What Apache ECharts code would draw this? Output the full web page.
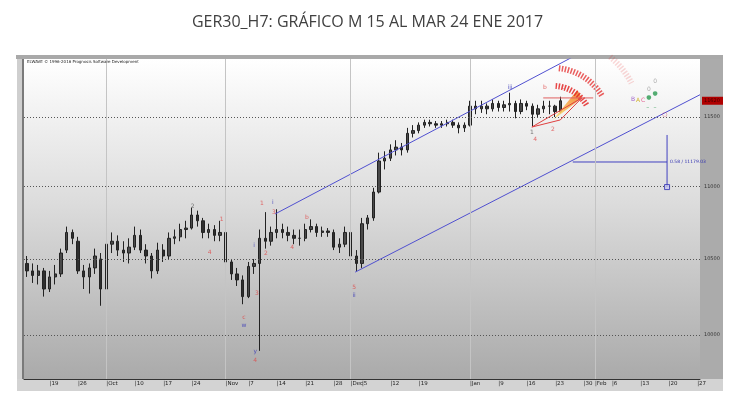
<!DOCTYPE html>
<html><head><meta charset="utf-8">
<script src="https://cdn.jsdelivr.net/npm/echarts@6/dist/echarts.min.js"></script>
<style>html,body{margin:0;padding:0;background:#fff}#c{width:735px;height:401px}</style>
</head><body><div id="c"></div>
<script>
// ---------- DATA ----------
const titleText = 'GER30_H7: GRÁFICO M 15 AL MAR 24 ENE 2017';
const creditText = 'ELWAVE © 1996-2016 Prognosis Software Development';

const days = [
 '2016-09-13','2016-09-14','2016-09-15','2016-09-16','2016-09-19','2016-09-20','2016-09-21','2016-09-22','2016-09-23','2016-09-26','2016-09-27','2016-09-28','2016-09-29','2016-09-30',
 '2016-10-03','2016-10-04','2016-10-05','2016-10-06','2016-10-07','2016-10-10','2016-10-11','2016-10-12','2016-10-13','2016-10-14','2016-10-17','2016-10-18','2016-10-19','2016-10-20','2016-10-21','2016-10-24','2016-10-25','2016-10-26','2016-10-27','2016-10-28','2016-10-31',
 '2016-11-01','2016-11-02','2016-11-03','2016-11-04','2016-11-07','2016-11-08','2016-11-09','2016-11-10','2016-11-11','2016-11-14','2016-11-15','2016-11-16','2016-11-17','2016-11-18','2016-11-21','2016-11-22','2016-11-23','2016-11-24','2016-11-25','2016-11-28','2016-11-29','2016-11-30',
 '2016-12-01','2016-12-02','2016-12-05','2016-12-06','2016-12-07','2016-12-08','2016-12-09','2016-12-12','2016-12-13','2016-12-14','2016-12-15','2016-12-16','2016-12-19','2016-12-20','2016-12-21','2016-12-22','2016-12-23','2016-12-27','2016-12-28','2016-12-29','2016-12-30',
 '2017-01-02','2017-01-03','2017-01-04','2017-01-05','2017-01-06','2017-01-09','2017-01-10','2017-01-11','2017-01-12','2017-01-13','2017-01-16','2017-01-17','2017-01-18','2017-01-19','2017-01-20','2017-01-23','2017-01-24','2017-01-25','2017-01-26','2017-01-27','2017-01-30','2017-01-31',
 '2017-02-01','2017-02-02','2017-02-03','2017-02-06','2017-02-07','2017-02-08','2017-02-09','2017-02-10','2017-02-13','2017-02-14','2017-02-15','2017-02-16','2017-02-17','2017-02-20','2017-02-21','2017-02-22','2017-02-23','2017-02-24','2017-02-27'
];

const tickDates = ['2016-09-19','2016-09-26','2016-10-03','2016-10-10','2016-10-17','2016-10-24','2016-11-01','2016-11-07','2016-11-14','2016-11-21','2016-11-28','2016-12-01','2016-12-05','2016-12-12','2016-12-19','2017-01-02','2017-01-09','2017-01-16','2017-01-23','2017-01-30','2017-02-01','2017-02-06','2017-02-13','2017-02-20','2017-02-27'];
const tickTexts = ['19','26','Oct','10','17','24','Nov','7','14','21','28','Dec','5','12','19','Jan','9','16','23','30','Feb','6','13','20','27'];
const monthDates = ['2016-10-03','2016-11-01','2016-12-01','2017-01-02','2017-02-01'];

const priceLevels = [10000, 10500, 11000, 11500];

// [open, close, low, high] per trading day
const ohlc = [
 [10470,10420,10380,10520],[10420,10390,10340,10470],[10390,10420,10330,10460],[10420,10300,10250,10440],
 [10300,10380,10280,10420],[10380,10400,10330,10460],[10400,10540,10380,10570],[10560,10680,10540,10720],[10680,10640,10600,10700],
 [10620,10420,10400,10650],[10420,10380,10300,10460],[10380,10440,10270,10470],[10440,10520,10400,10570],[10500,10300,10190,10540],
 [10300,10600,10290,10660],[10600,10620,10540,10680],[10620,10560,10520,10660],[10560,10540,10480,10620],[10540,10580,10470,10640],
 [10580,10660,10560,10720],[10660,10560,10540,10700],[10560,10520,10470,10600],[10520,10420,10370,10540],[10420,10560,10400,10610],
 [10560,10520,10480,10600],[10520,10640,10500,10680],[10640,10650,10600,10700],[10650,10700,10620,10740],[10700,10710,10640,10760],
 [10710,10800,10700,10850],[10800,10760,10720,10830],[10760,10680,10640,10780],[10680,10700,10640,10740],[10700,10660,10620,10730],
 [10660,10680,10620,10760],
 [10680,10480,10440,10700],[10480,10400,10360,10500],[10400,10360,10320,10440],[10360,10250,10200,10390],
 [10250,10450,10240,10480],[10450,10470,10400,10500],[10470,10640,9900,10700],[10640,10620,10570,10820],[10620,10680,10590,10720],
 [10680,10700,10640,10840],[10700,10680,10640,10740],[10680,10660,10620,10720],[10660,10640,10600,10700],[10640,10640,10590,10700],
 [10640,10700,10620,10740],[10700,10720,10680,10770],[10720,10680,10650,10740],[10680,10690,10650,10720],[10690,10680,10650,10710],
 [10680,10580,10560,10700],[10580,10600,10540,10640],[10600,10680,10580,10720],
 [10680,10520,10500,10700],[10520,10470,10420,10560],
 [10470,10740,10440,10780],[10740,10780,10700,10800],[10780,10960,10760,10990],[10960,11180,10950,11240],[11180,11200,11120,11250],
 [11200,11260,11180,11300],[11260,11280,11220,11330],[11280,11260,11220,11310],[11260,11380,11240,11420],[11380,11400,11350,11440],
 [11400,11440,11380,11460],[11440,11460,11420,11480],[11460,11450,11430,11480],[11450,11440,11420,11470],[11440,11450,11420,11470],
 [11450,11460,11430,11480],[11460,11440,11420,11480],[11440,11420,11380,11460],[11420,11440,11390,11460],
 [11440,11580,11430,11620],[11580,11560,11520,11620],[11560,11580,11530,11620],[11580,11560,11520,11600],[11560,11600,11540,11630],
 [11600,11570,11540,11620],[11570,11590,11540,11620],[11590,11600,11540,11680],[11600,11540,11490,11620],[11540,11600,11520,11630],
 [11600,11580,11550,11620],[11580,11520,11430,11600],[11520,11560,11500,11590],[11560,11580,11530,11620],[11580,11580,11520,11620],
 [11580,11540,11500,11590],[11540,11620,11530,11650]
];

// channel lines [barIndex, price]
const upperChannel = [[43.7, 10807], [96.1, 11951]];
const lowerChannel = [[57.8, 10412], [118.5, 11665]];
// red triangle lines
const redWedgeLines = [[88.9, 11426], [97.7, 11641], [93.9, 11478], [88.9, 11426]];
const redHLine = [[90.9, 11641], [99.7, 11641]];
const wedgeFill = [[92.6, 11478], [97.7, 11641], [96.9, 11700]];
// arcs: [centerIndex, centerPrice, topPrice, opacity, startDeg, endDeg]
const arcs = [[92.6, 11441, 11731, 0.85, -86, -30], [92.6, 11441, 11867, 0.75, -84, -30], [92.6, 11441, 12113, 0.18, -50, -28]];
// measurement cross
const measureV = [[112.7, 11368], [112.7, 10995]];
const measureH = [[96.1, 11173], [112.7, 11173]];
const measureText = '0.58 / 11179.03';

const redLabels = [[34.3,10770,'1'],[32.2,10546,'4'],[40.5,10273,'3'],[38.2,10116,'c'],[40.2,9837,'4'],[41.4,10883,'1'],
 [43.5,10821,'3'],[42.1,10540,'2'],[46.7,10580,'4'],[49.3,10786,'b'],[57.6,10312,'5'],[91.2,11723,'b'],[94.4,11723,'c'],[89.5,11332,'4'],[92.6,11405,'2']];
const blueLabels = [[40.0,10590,'i'],[38.2,10064,'w'],[40.2,9894,'y'],[43.3,10890,'i'],[57.6,10260,'ii'],[85.05,11723,'iii']];
const greyLabels = [[29.2,10860,'2'],[88.9,11383,'1']];
const forecastLabels = [[106.7,11633,'B','#8a3fbf'],[107.6,11626,'A','#c9a400'],[108.5,11626,'C','#e0407a'],
 [109.5,11641,'●','#2a9a50'],[110.6,11678,'●','#2a9a50'],[109.5,11708,'0','#999'],[110.6,11768,'0','#999'],
 [109.3,11574,'–','#2a9a50'],[110.6,11574,'–','#2a9a50'],[112.3,11522,'○','#d04060']];

// ---------- CHART ----------
const chart = echarts.init(document.getElementById('c'));
const monthIdx = monthDates.map(d => days.indexOf(d));
const tickIdx = tickDates.map(d => days.indexOf(d));
const lastIdx = ohlc.length - 1;
const lastClose = ohlc[lastIdx][1];

function labelSeries(arr, color) {
  return {
    type: 'scatter', xAxisIndex: 1, symbolSize: 0, z: 6,
    data: arr.map(a => ({ value: [a[0], a[1]], label: { formatter: a[2], color: a[3] || color } })),
    label: { show: true, position: 'inside', fontSize: 6, fontFamily: 'DejaVu Sans', color: color },
    silent: true
  };
}

chart.setOption({
  animation: false,
  title: { text: titleText, left: 'center', top: 9,
    textStyle: { fontFamily: 'Open Sans', fontSize: 16, fontWeight: 'normal', color: '#404040' } },
  graphic: [
    { type: 'rect', z: -10, shape: { x: 16, y: 55, width: 707, height: 4 }, style: { fill: '#a9a9a9' } },
    { type: 'rect', z: -10, shape: { x: 17, y: 59, width: 5, height: 332 }, style: { fill: '#cfcfcf' } },
    { type: 'rect', z: -10, shape: { x: 22, y: 59, width: 2, height: 320 }, style: { fill: '#7a7a7a' } },
    { type: 'rect', z: -10, shape: { x: 700, y: 59, width: 23, height: 320 }, style: { fill: '#ababab' } },
    { type: 'rect', z: -10, shape: { x: 17, y: 379, width: 706, height: 12 }, style: { fill: '#d3d3d3' } },
    { type: 'text', z: 10, left: 27, top: 60, style: { text: creditText, font: '4px "DejaVu Sans"', fill: '#222' } }
  ],
  grid: { left: 24, right: 35, top: 59, bottom: 22, show: true, borderWidth: 0,
    backgroundColor: new echarts.graphic.LinearGradient(0, 0, 0, 1, [
      { offset: 0, color: '#ffffff' }, { offset: 0.45, color: '#dcdcdc' }, { offset: 1, color: '#aaaaaa' }]) },
  xAxis: [
    { type: 'category', data: days, boundaryGap: true,
      axisLine: { lineStyle: { color: '#333', width: 1 } },
      axisTick: { interval: 0, length: 2, lineStyle: { color: '#555' } },
      axisLabel: { interval: (i) => tickIdx.indexOf(i) >= 0,
        formatter: (v, i) => { const k = tickDates.indexOf(v); return k >= 0 ? '|' + tickTexts[k] : ''; },
        fontSize: 5.5, color: '#222', margin: 2, align: 'left', fontFamily: 'DejaVu Sans' },
      splitLine: { show: false } },
    { type: 'value', show: false, min: -0.5, max: days.length - 0.5 }
  ],
  yAxis: { type: 'log', min: 9723, max: 11935, position: 'right',
    axisLine: { show: false }, axisTick: { show: false }, axisLabel: { show: false }, splitLine: { show: false } },
  series: [
    { type: 'line', xAxisIndex: 1, data: [], silent: true,
      markLine: { symbol: 'none', silent: true, animation: false,
        lineStyle: { color: '#c4c4c4', type: 'solid', width: 1 }, label: { show: false },
        data: monthIdx.map(i => ({ xAxis: i })) } },
    { type: 'line', xAxisIndex: 1, data: [], silent: true,
      markLine: { symbol: 'none', silent: true, animation: false,
        lineStyle: { color: '#555', type: [1, 2], width: 1 },
        label: { show: true, position: 'end', distance: 4, fontSize: 5, color: '#333', fontFamily: 'DejaVu Sans', formatter: p => p.value },
        data: priceLevels.map(v => ({ yAxis: v })) } },
    { type: 'candlestick', xAxisIndex: 0, data: ohlc, barMaxWidth: 3,
      itemStyle: { color: '#4a4a4a', color0: '#2e2e2e', borderColor: '#222', borderColor0: '#222', borderWidth: 1 } },
    { type: 'custom', xAxisIndex: 1, z: 3, silent: true, data: [wedgeFill.flat()],
      renderItem: (params, api) => {
        const pts = [0, 1, 2].map(k => api.coord([api.value(2 * k), api.value(2 * k + 1)]));
        return { type: 'polygon', shape: { points: pts },
          style: { fill: new echarts.graphic.LinearGradient(0, 1, 1, 0, [
            { offset: 0, color: 'rgba(255,230,120,0.9)' }, { offset: 1, color: 'rgba(240,120,40,0.9)' }]) } };
      } },
    { type: 'custom', xAxisIndex: 1, z: 3, silent: true, data: arcs,
      renderItem: (params, api) => {
        const c = api.coord([api.value(0), api.value(1)]);
        const t = api.coord([api.value(0), api.value(2)]);
        const r = c[1] - t[1];
        return { type: 'arc', shape: { cx: c[0], cy: c[1], r: r, startAngle: api.value(4) * Math.PI / 180, endAngle: api.value(5) * Math.PI / 180, clockwise: true },
          style: { fill: null, stroke: 'rgba(228,40,40,' + api.value(3) + ')', lineWidth: 6, lineDash: [1.5, 1.5] } };
      } },
    { type: 'line', xAxisIndex: 1, data: upperChannel, symbol: 'none', lineStyle: { color: '#5050d0', width: 1 }, silent: true, z: 4 },
    { type: 'line', xAxisIndex: 1, data: lowerChannel, symbol: 'none', lineStyle: { color: '#5050d0', width: 1 }, silent: true, z: 4 },
    { type: 'line', xAxisIndex: 1, data: redWedgeLines, symbol: 'none', lineStyle: { color: '#e04040', width: 1 }, silent: true, z: 4 },
    { type: 'line', xAxisIndex: 1, data: redHLine, symbol: 'none', lineStyle: { color: '#e06060', width: 1 }, silent: true, z: 4 },
    { type: 'line', xAxisIndex: 1, data: measureV, symbol: 'none', lineStyle: { color: '#4040c0', width: 1 }, silent: true, z: 4 },
    { type: 'line', xAxisIndex: 1, data: measureH, symbol: 'none', lineStyle: { color: '#4040c0', width: 1 }, silent: true, z: 4,
      endLabel: { show: true, formatter: measureText, fontSize: 4.5, color: '#3030b0', distance: 3, fontFamily: 'DejaVu Sans' } },
    { type: 'scatter', xAxisIndex: 1, data: [measureV[1]], symbol: 'rect', symbolSize: 5,
      itemStyle: { color: '#c8c8f0', borderColor: '#3030b0', borderWidth: 1 }, silent: true, z: 5 },
    labelSeries(redLabels, '#e04848'),
    labelSeries(blueLabels, '#3434b8'),
    labelSeries(greyLabels, '#555'),
    labelSeries(forecastLabels, '#555'),
    { type: 'custom', xAxisIndex: 1, z: 8, silent: true, clip: false, data: [[lastIdx, lastClose]],
      renderItem: (params, api) => {
        const p = api.coord([api.value(0), api.value(1)]);
        const cs = params.coordSys;
        return { type: 'group', children: [
          { type: 'rect', shape: { x: cs.x + cs.width + 2, y: p[1] - 4, width: 21, height: 8 }, style: { fill: '#b00000' } },
          { type: 'text', x: cs.x + cs.width + 4, y: p[1] - 3, style: { text: String(api.value(1)), fontSize: 5, fill: '#400', fontFamily: 'DejaVu Sans' } }
        ] };
      } }
  ]
});
</script></body></html>
